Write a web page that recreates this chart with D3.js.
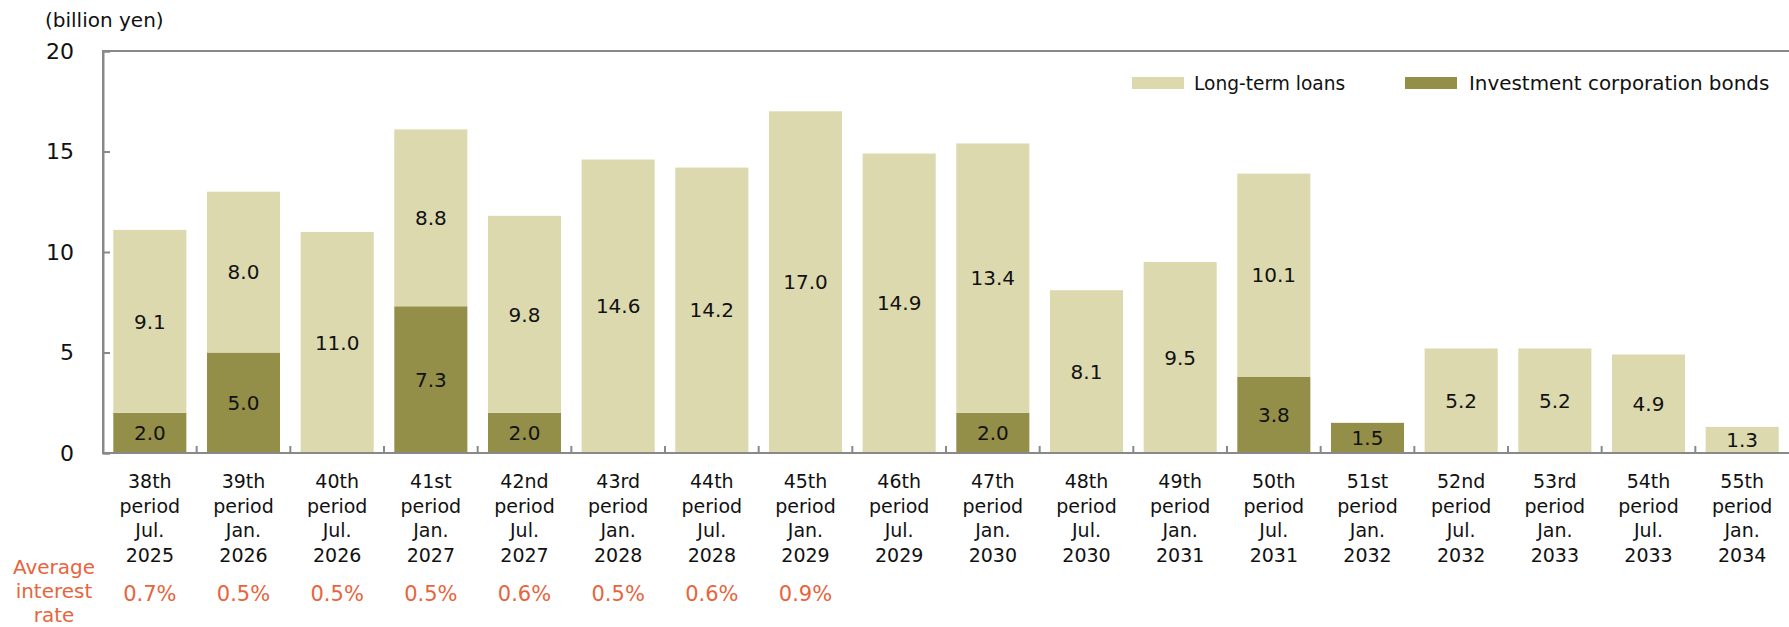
<!DOCTYPE html>
<html><head><meta charset="utf-8">
<script src="https://cdn.jsdelivr.net/npm/d3@7"></script>
<style>
html,body{margin:0;padding:0;background:#fff;}
svg{display:block;font-family:"DejaVu Sans",Verdana,sans-serif;}
</style></head>
<body>
<script>
const periods = ["38th","39th","40th","41st","42nd","43rd","44th","45th","46th","47th","48th","49th","50th","51st","52nd","53rd","54th","55th"];
const months  = ["Jul.","Jan.","Jul.","Jan.","Jul.","Jan.","Jul.","Jan.","Jul.","Jan.","Jul.","Jan.","Jul.","Jan.","Jul.","Jan.","Jul.","Jan."];
const years   = ["2025","2026","2026","2027","2027","2028","2028","2029","2029","2030","2030","2031","2031","2032","2032","2033","2033","2034"];
const bonds   = [2.0,5.0,0,7.3,2.0,0,0,0,0,2.0,0,0,3.8,1.5,0,0,0,0];
const loans   = [9.1,8.0,11.0,8.8,9.8,14.6,14.2,17.0,14.9,13.4,8.1,9.5,10.1,0,5.2,5.2,4.9,1.3];
const rates   = ["0.7%","0.5%","0.5%","0.5%","0.6%","0.5%","0.6%","0.9%"];
const yTicks  = [0,5,10,15,20];
const seriesNames = ["Long-term loans","Investment corporation bonds"];

const W = 1789, H = 627;
const m = {l:103, t:51, r:0, b:174};
const colLoan = "#DCD9AF", colBond = "#948F48", axisCol = "#898989", rateCol = "#E8643C";

const svg = d3.select("body").append("svg").attr("width",W).attr("height",H);

const x = d3.scaleBand().domain(periods).range([m.l, W - m.r]).paddingInner(0.22).paddingOuter(0.11);
const y = d3.scaleLinear().domain([0,20]).range([H - m.b, m.t]);
const step = x.step();

// bars
const g = svg.append("g");
periods.forEach((p,i)=>{
  if (bonds[i] > 0) {
    g.append("rect").attr("x", x(p)).attr("width", x.bandwidth())
      .attr("y", y(bonds[i])).attr("height", y(0) - y(bonds[i])).attr("fill", colBond);
  }
  if (loans[i] > 0) {
    g.append("rect").attr("x", x(p)).attr("width", x.bandwidth())
      .attr("y", y(bonds[i] + loans[i])).attr("height", y(bonds[i]) - y(bonds[i] + loans[i])).attr("fill", colLoan);
  }
});

// value labels
periods.forEach((p,i)=>{
  const cx = x(p) + x.bandwidth()/2;
  if (bonds[i] > 0) {
    svg.append("text").attr("x", cx).attr("y", y(bonds[i]/2)).attr("dy","0.36em")
      .attr("text-anchor","middle").attr("font-size",20).attr("fill","#111").text(bonds[i].toFixed(1));
  }
  if (loans[i] > 0) {
    svg.append("text").attr("x", cx).attr("y", y(bonds[i] + loans[i]/2)).attr("dy","0.36em")
      .attr("text-anchor","middle").attr("font-size",20).attr("fill","#111").text(loans[i].toFixed(1));
  }
});

// frame
svg.append("rect").attr("x", m.l).attr("y", y(20)).attr("width", W - m.r - m.l + 5).attr("height", y(0) - y(20))
  .attr("fill","none").attr("stroke", axisCol).attr("stroke-width", 2);

// y axis
const ya = svg.append("g").attr("transform", `translate(${m.l},0)`)
  .call(d3.axisLeft(y).tickValues(yTicks).tickSize(-7).tickPadding(29).tickFormat(d3.format("d")));
ya.select(".domain").attr("stroke", axisCol).attr("stroke-width", 2);
ya.selectAll(".tick line").attr("stroke", axisCol).attr("stroke-width", 2);
ya.selectAll(".tick text").attr("font-size", 22).attr("fill","#111").attr("font-family","DejaVu Sans, Verdana, sans-serif");

// x axis baseline and boundary ticks
svg.append("line").attr("x1", m.l).attr("x2", W).attr("y1", y(0)).attr("y2", y(0))
  .attr("stroke", axisCol).attr("stroke-width", 2);
periods.forEach((p,i)=>{
  if (i === 0) return;
  const bx = x(p) - step*0.11;
  svg.append("line").attr("x1", bx).attr("x2", bx).attr("y1", y(0)).attr("y2", y(0) - 7)
    .attr("stroke", axisCol).attr("stroke-width", 2);
});

// x labels
periods.forEach((p,i)=>{
  const cx = x(p) + x.bandwidth()/2;
  const t = svg.append("text").attr("x", cx).attr("y", y(0) + 35).attr("text-anchor","middle")
    .attr("font-size", 19).attr("fill","#111");
  [p, "period", months[i], years[i]].forEach((s,k)=>{
    t.append("tspan").attr("x", cx).attr("dy", k === 0 ? 0 : 24.5).text(s);
  });
});

// interest rate
const rl = svg.append("text").attr("x", 54).attr("y", 574).attr("text-anchor","middle")
  .attr("font-size", 20).attr("fill", rateCol);
["Average","interest","rate"].forEach((s,k)=>{
  rl.append("tspan").attr("x", 54).attr("dy", k === 0 ? 0 : 24).text(s);
});
rates.forEach((r,i)=>{
  svg.append("text").attr("x", x(periods[i]) + x.bandwidth()/2).attr("y", 601)
    .attr("text-anchor","middle").attr("font-size", 21).attr("fill", rateCol).text(r);
});

// unit
svg.append("text").attr("x", 45).attr("y", 27).attr("font-size", 20).attr("fill","#111").text("(billion yen)");

// legend
const leg = [{n:seriesNames[0], c:colLoan, x:1132, tx:1194, fs:18.6}, {n:seriesNames[1], c:colBond, x:1405, tx:1469, fs:19.9}];
leg.forEach(l=>{
  svg.append("rect").attr("x", l.x).attr("y", 77).attr("width", 52).attr("height", 12).attr("fill", l.c);
  svg.append("text").attr("x", l.tx).attr("y", 83).attr("dy","0.36em").attr("font-size", l.fs)
    .attr("fill","#111").text(l.n);
});
</script>
</body></html>
